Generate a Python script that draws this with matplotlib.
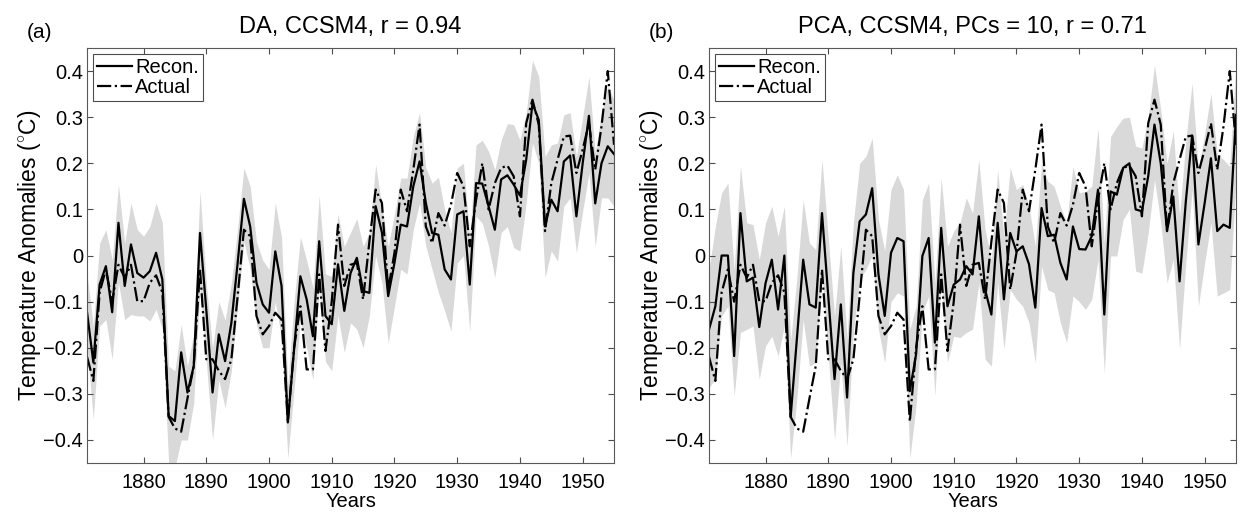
import numpy as np
import matplotlib
matplotlib.use("Agg")
import matplotlib.pyplot as plt

plt.rcParams["font.family"] = ["Liberation Sans", "DejaVu Sans"]
plt.rcParams["mathtext.fontset"] = "custom"
plt.rcParams["mathtext.rm"] = "Liberation Sans"

# === DATI ===
anni = np.arange(1871, 1956)

actual = [-0.22, -0.272, -0.08, -0.03, -0.1, -0.02, -0.048, -0.02, -0.099, -0.099,
          -0.059, -0.043, -0.08, -0.35, -0.375, -0.382, -0.31, -0.24, -0.03, -0.225,
          -0.225, -0.25, -0.268, -0.225, -0.088, 0.056, 0.042, -0.131, -0.171, -0.153,
          -0.124, -0.139, -0.36, -0.2, -0.11, -0.247, -0.247, -0.041, -0.207, -0.1,
          0.067, -0.066, -0.02, -0.016, -0.095, 0.03, 0.143, 0.114, -0.074, 0.006,
          0.143, 0.096, 0.186, 0.284, 0.063, 0.027, 0.092, 0.065, 0.11, 0.179,
          0.15, 0.02, 0.12, 0.2, 0.1, 0.157, 0.19, 0.195, 0.172, 0.085,
          0.287, 0.338, 0.284, 0.053, 0.157, 0.208, 0.258, 0.26, 0.179, 0.23,
          0.287, 0.186, 0.28, 0.4, 0.24]

# (a) DA
recon_da = [-0.124, -0.232, -0.063, -0.023, -0.123, 0.071, -0.066, 0.024, -0.038, -0.048,
            -0.034, 0.006, -0.052, -0.348, -0.359, -0.21, -0.297, -0.24, 0.049, -0.117,
            -0.297, -0.171, -0.229, -0.146, -0.016, 0.123, 0.063, -0.059, -0.106, -0.124,
            0.009, -0.066, -0.362, -0.203, -0.045, -0.095, -0.175, 0.031, -0.131, -0.149,
            -0.019, -0.12, -0.038, -0.005, -0.077, -0.081, 0.107, 0.05, -0.088, -0.016,
            0.067, 0.063, 0.15, 0.204, 0.114, 0.049, 0.045, -0.03, -0.052, 0.089,
            0.096, -0.063, 0.157, 0.156, 0.107, 0.056, 0.165, 0.174, 0.154, 0.13,
            0.208, 0.33, 0.294, 0.063, 0.121, 0.096, 0.204, 0.217, 0.085, 0.2,
            0.303, 0.113, 0.2, 0.237, 0.22]
upper_da = [-0.041, -0.153, 0.027, 0.056, -0.009, 0.154, 0.027, 0.114, 0.056, 0.042,
            0.063, 0.114, 0.071, -0.24, -0.25, -0.15, -0.24, -0.17, 0.14, -0.06,
            -0.2, -0.1, -0.14, -0.06, 0.06, 0.19, 0.15, 0.03, -0.01, -0.03,
            0.114, 0.04, -0.28, -0.1, 0.04, -0.01, -0.07, 0.13, -0.04, -0.045,
            0.09, 0.02, 0.05, 0.08, 0.02, 0.05, 0.197, 0.107, 0.02, 0.09,
            0.168, 0.168, 0.258, 0.31, 0.19, 0.157, 0.17, 0.1, 0.05, 0.19,
            0.2, 0.04, 0.24, 0.25, 0.226, 0.186, 0.25, 0.286, 0.284, 0.25,
            0.31, 0.424, 0.388, 0.215, 0.24, 0.244, 0.305, 0.31, 0.215, 0.3,
            0.388, 0.222, 0.31, 0.367, 0.338]
lower_da = [-0.2, -0.355, -0.153, -0.139, -0.225, -0.059, -0.139, -0.128, -0.131, -0.131,
            -0.142, -0.117, -0.16, -0.45, -0.46, -0.4, -0.4, -0.32, -0.07, -0.23,
            -0.4, -0.27, -0.33, -0.25, -0.11, 0.03, -0.03, -0.15, -0.2, -0.2,
            -0.1, -0.18, -0.44, -0.29, -0.14, -0.2, -0.27, -0.07, -0.23, -0.25,
            -0.13, -0.21, -0.146, -0.16, -0.2, -0.13, 0.0, -0.06, -0.19, -0.11,
            -0.03, -0.04, 0.056, 0.114, 0.02, -0.03, -0.08, -0.12, -0.164, -0.016,
            0.0, -0.164, 0.085, 0.07, 0.02, -0.048, 0.05, 0.063, 0.017, 0.01,
            0.114, 0.244, 0.2, -0.048, 0.01, -0.012, 0.107, 0.125, 0.006, 0.096,
            0.179, 0.02, 0.125, 0.125, 0.107]

# (b) PCA
recon_pca = [-0.16, -0.11, 0.0, 0.0, -0.218, 0.092, -0.056, -0.048, -0.155, -0.06,
             -0.009, -0.117, 0.0, -0.35, -0.18, -0.009, -0.106, -0.113, 0.092, -0.088,
             -0.268, -0.106, -0.308, -0.038, 0.074, 0.089, 0.146, -0.041, -0.131, 0.006,
             0.038, 0.031, -0.294, -0.214, -0.001, 0.038, -0.189, 0.06, -0.11, -0.063,
             -0.052, -0.023, -0.041, 0.085, -0.074, -0.128, 0.071, -0.095, 0.049, 0.009,
             0.02, -0.019, -0.113, 0.103, 0.042, 0.045, -0.016, -0.052, 0.063, 0.014,
             0.013, 0.042, 0.143, -0.128, 0.139, 0.132, 0.19, 0.2, 0.1, 0.096,
             0.172, 0.284, 0.2, 0.053, 0.128, -0.056, 0.118, 0.26, 0.024, 0.114,
             0.211, 0.053, 0.067, 0.06, 0.305]
upper_pca = [-0.03, 0.063, 0.136, 0.157, -0.03, 0.193, 0.071, 0.067, -0.009, 0.071,
             0.107, 0.042, 0.107, -0.185, -0.048, 0.121, 0.027, 0.013, 0.208, 0.038,
             -0.131, 0.02, -0.18, 0.071, 0.2, 0.215, 0.255, 0.078, 0.01, 0.143,
             0.175, 0.143, -0.16, -0.11, 0.121, 0.157, -0.06, 0.168, 0.02, 0.053,
             0.071, 0.125, 0.092, 0.208, 0.056, -0.009, 0.186, 0.042, 0.19, 0.143,
             0.154, 0.107, 0.02, 0.2, 0.161, 0.15, 0.107, 0.071, 0.193, 0.136,
             0.139, 0.15, 0.276, 0.027, 0.258, 0.28, 0.298, 0.3, 0.237, 0.233,
             0.3, 0.413, 0.316, 0.2, 0.27, 0.085, 0.25, 0.374, 0.186, 0.265,
             0.352, 0.219, 0.208, 0.193, 0.417]
lower_pca = [-0.286, -0.268, -0.131, -0.11, -0.304, -0.167, -0.16, -0.153, -0.268, -0.196,
             -0.175, -0.218, -0.153, -0.44, -0.31, -0.139, -0.24, -0.232, -0.045, -0.218,
             -0.4, -0.232, -0.413, -0.167, -0.052, -0.03, 0.0, -0.16, -0.232, -0.1,
             -0.081, -0.088, -0.44, -0.326, -0.124, -0.088, -0.304, -0.06, -0.232, -0.175,
             -0.178, -0.167, -0.16, -0.059, -0.225, -0.24, -0.059, -0.203, -0.074, -0.095,
             -0.11, -0.146, -0.232, -0.023, -0.074, -0.081, -0.146, -0.189, -0.088, -0.1,
             -0.117, -0.095, -0.009, -0.254, -0.001, -0.001, 0.078, 0.1, -0.034, -0.038,
             0.049, 0.165, 0.071, -0.059, -0.009, -0.203, -0.016, 0.143, -0.11, -0.016,
             0.071, -0.088, -0.081, -0.074, 0.165]

pannelli = [
    ("(a)", "DA, CCSM4, r = 0.94", recon_da, upper_da, lower_da),
    ("(b)", "PCA, CCSM4, PCs = 10, r = 0.71", recon_pca, upper_pca, lower_pca),
]

# === GRAFICO ===
fig = plt.figure(figsize=(12.44, 5.17), dpi=100)
posizioni = [0.070, 0.570]

for left, (lettera, titolo, recon, up, low) in zip(posizioni, pannelli):
    ax = fig.add_axes([left, 0.1044, 0.4236, 0.8027])
    ax.fill_between(anni, low, up, color="#d9d9d9", linewidth=0)
    ax.plot(anni, recon, color="black", linewidth=1.6, label="Recon.")
    ax.plot(anni, actual, color="black", linewidth=1.6, linestyle="-.", label="Actual")
    ax.set_xlim(1871, 1955)
    ax.set_ylim(-0.45, 0.45)
    ax.set_xticks(range(1880, 1951, 10))
    ax.set_yticks(np.arange(-0.4, 0.41, 0.1))
    ax.set_yticklabels(["\u22120.4", "\u22120.3", "\u22120.2", "\u22120.1", "0",
                        "0.1", "0.2", "0.3", "0.4"])
    ax.tick_params(direction="in", top=True, right=True, length=4,
                   labelsize=14.5, color="0.3")
    ax.tick_params(axis="x", pad=7)
    ax.tick_params(axis="y", pad=3)
    for sp in ax.spines.values():
        sp.set_color("0.35")
    ax.set_xlabel("Years", fontsize=14.5, labelpad=0)
    ax.set_ylabel(r"Temperature Anomalies ($^{\circ}$C)", fontsize=16.5, labelpad=0)
    ax.set_title(titolo, fontsize=17, pad=11)
    ax.text(-0.114, 1.014, lettera, transform=ax.transAxes, fontsize=15,
            ha="left", va="bottom")
    leg = ax.legend(loc="upper left", fontsize=14.5, fancybox=False,
                    borderaxespad=0.3, handlelength=1.75, handletextpad=0.15,
                    borderpad=0.2, labelspacing=0.05, framealpha=1)
    leg.get_frame().set_edgecolor("0.3")
    leg.get_frame().set_linewidth(0.8)

plt.savefig("out.png", dpi=100)
plt.close()
